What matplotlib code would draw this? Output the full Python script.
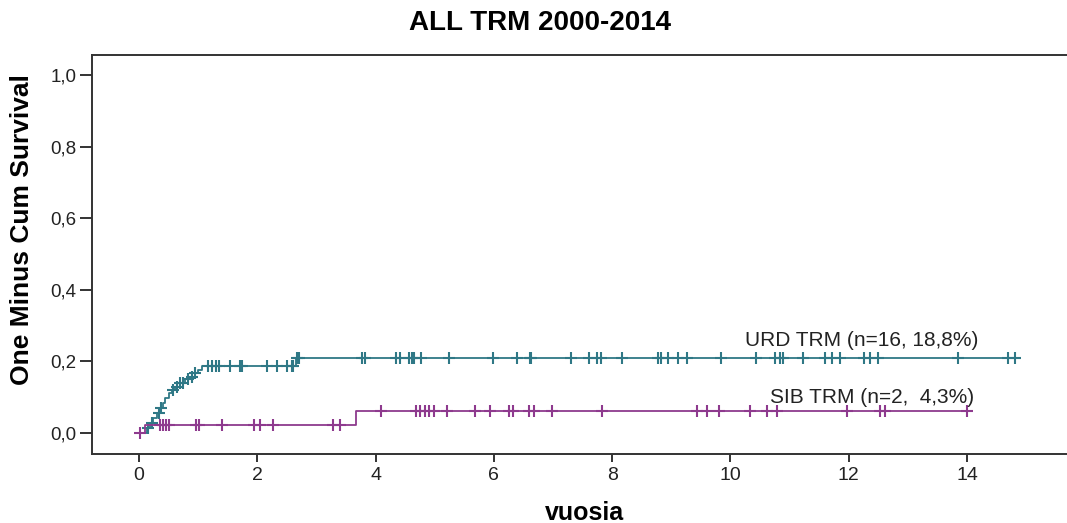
import matplotlib
matplotlib.use("Agg")
import matplotlib.pyplot as plt
import numpy as np

plt.rcParams['font.family'] = ['Liberation Sans', 'DejaVu Sans']

# URD group: event times (years) and cumulative incidence after each step
urd_event_t = [0.13, 0.19, 0.24, 0.30, 0.36, 0.41, 0.44, 0.50, 0.55, 0.61,
               0.69, 0.78, 0.86, 0.95, 1.00, 1.06, 2.65]
urd_event_y = [0.013, 0.027, 0.041, 0.055, 0.069, 0.083, 0.097, 0.111, 0.120,
               0.129, 0.140, 0.150, 0.157, 0.167, 0.176, 0.188, 0.209]
urd_end = 14.9
urd_censor = [0.16, 0.22, 0.33, 0.38, 0.57, 0.64, 0.69, 0.74, 0.83, 0.89, 0.95,
              1.17, 1.23, 1.30, 1.36, 1.54, 1.71, 1.74, 2.16, 2.34, 2.50, 2.58,
              2.61, 2.67, 2.71, 3.77, 3.82, 4.35, 4.41, 4.57, 4.61, 4.65, 4.76,
              5.24, 5.99, 6.39, 6.61, 6.63, 7.30, 7.60, 7.74, 7.81, 8.17, 8.78,
              8.83, 8.95, 9.12, 9.26, 9.84, 10.44, 10.75, 10.83, 10.89, 11.23,
              11.60, 11.71, 11.85, 12.25, 12.36, 12.50, 13.85, 14.70, 14.81]

# SIB group
sib_event_t = [0.10, 3.67]
sib_event_y = [0.022, 0.0615]
sib_end = 14.0
sib_censor = [0.02, 0.36, 0.41, 0.45, 0.50, 0.96, 1.02, 1.41, 1.95, 2.05, 2.27,
              3.28, 3.40, 4.09, 4.68, 4.75, 4.84, 4.91, 4.99, 5.20, 5.68, 5.94,
              6.25, 6.32, 6.60, 6.68, 6.99, 7.82, 9.43, 9.60, 9.80, 10.33, 10.61,
              10.78, 11.97, 12.53, 12.61, 14.00]

y_ticks = [0.0, 0.2, 0.4, 0.6, 0.8, 1.0]
x_ticks = [0, 2, 4, 6, 8, 10, 12, 14]

teal = '#2f7886'
purple = '#8e3a8e'


def step_curve(times, levels, end):
    x = np.concatenate([[0.0], times, [end]])
    y = np.concatenate([[0.0], levels, [levels[-1]]])
    return x, y


def level_at(times, levels, t):
    idx = np.searchsorted(times, t, side='right')
    return np.concatenate([[0.0], levels])[idx]


fig = plt.figure(figsize=(10.67, 5.23), dpi=100)
ax = fig.add_axes([92 / 1067, 69 / 523, 975 / 1067, 399 / 523])

for times, levels, end, cens, col in [
        (urd_event_t, urd_event_y, urd_end, urd_censor, teal),
        (sib_event_t, sib_event_y, sib_end, sib_censor, purple)]:
    sx, sy = step_curve(times, levels, end)
    ax.step(sx, sy, where='post', color=col, lw=1.3)
    c = np.array(cens)
    ax.plot(c, level_at(times, levels, c), ls='none', marker='+',
            ms=8, mew=1.5, color=col)

ax.text(10.25, 0.257, 'URD TRM (n=16, 18,8%)', fontsize=15,
        color='#222222', va='center')
ax.text(10.67, 0.100, 'SIB TRM (n=2,  4,3%)', fontsize=15,
        color='#222222', va='center')

ax.set_xlim(-0.795, 15.69)
ax.set_ylim(-0.0587, 1.056)
ax.set_xticks(x_ticks)
ax.set_yticks(y_ticks)
ax.set_yticklabels([f'{v:.1f}'.replace('.', ',') for v in y_ticks])

for side in ['left', 'top', 'bottom']:
    ax.spines[side].set_linewidth(1.4)
    ax.spines[side].set_color('#333333')
ax.spines['right'].set_visible(False)

ax.tick_params(axis='y', length=9, width=1.4, color='#333333', pad=2,
               labelsize=13.5, labelcolor='#222222')
ax.tick_params(axis='x', length=6, width=1.4, color='#333333', pad=3,
               labelsize=14, labelcolor='#222222')

fig.text(540 / 1067, 1 - 23 / 523, 'ALL TRM 2000-2014', fontsize=20,
         fontweight='bold', ha='center', va='center')
fig.text(584 / 1067, 1 - 513 / 523, 'vuosia', fontsize=18,
         fontweight='bold', ha='center', va='center')
fig.text(22 / 1067, 1 - 230 / 523, 'One Minus Cum Survival', fontsize=19,
         fontweight='bold', ha='center', va='center', rotation=90)

fig.savefig('out.png', dpi=100)
